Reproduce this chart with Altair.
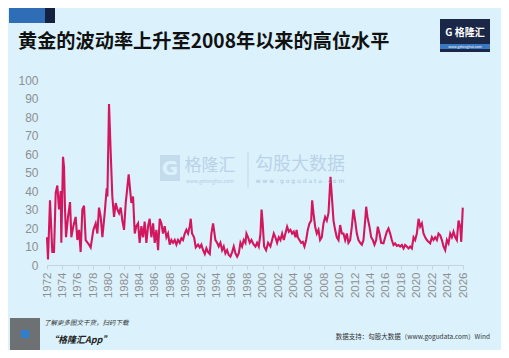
import altair as alt
import pandas as pd

# ---- data ----
years = [
    1972.00, 1972.13, 1972.39, 1972.69, 1972.91, 1973.13, 1973.34, 1973.56, 1973.78, 1973.86,
    1974.08, 1974.21, 1974.34, 1974.47, 1974.73, 1974.99, 1975.16, 1975.42, 1975.72, 1975.94,
    1976.16, 1976.37, 1976.59, 1976.81, 1977.02, 1977.45, 1977.67, 1978.02, 1978.32, 1978.54,
    1978.75, 1978.97, 1979.19, 1979.49, 1979.75, 1979.84, 1980.05, 1980.27, 1980.48, 1980.70,
    1980.92, 1981.13, 1981.35, 1981.57, 1981.78, 1982.00, 1982.22, 1982.60, 1982.95, 1983.17,
    1983.39, 1983.60, 1983.82, 1984.03, 1984.25, 1984.47, 1984.68, 1984.90, 1985.12, 1985.33,
    1985.55, 1985.77, 1985.98, 1986.20, 1986.42, 1986.63, 1986.85, 1987.06, 1987.28, 1987.50,
    1987.71, 1987.93, 1988.15, 1988.36, 1988.58, 1988.80, 1989.01, 1989.23, 1989.45, 1989.66,
    1989.88, 1990.09, 1990.31, 1990.53, 1990.66, 1990.83, 1991.09, 1991.31, 1991.61, 1991.83,
    1992.04, 1992.26, 1992.48, 1992.69, 1992.91, 1993.13, 1993.34, 1993.56, 1993.86, 1994.08,
    1994.29, 1994.51, 1994.73, 1994.94, 1995.16, 1995.38, 1995.59, 1995.81, 1996.03, 1996.24,
    1996.46, 1996.68, 1996.89, 1997.11, 1997.32, 1997.54, 1997.76, 1997.89, 1998.10, 1998.32,
    1998.54, 1998.84, 1999.06, 1999.27, 1999.49, 1999.71, 1999.85, 2000.00, 2000.18, 2000.44,
    2000.70, 2001.00, 2001.22, 2001.44, 2001.65, 2001.87, 2002.09, 2002.30, 2002.52, 2002.74,
    2002.95, 2003.17, 2003.39, 2003.60, 2003.82, 2004.03, 2004.25, 2004.40, 2004.55, 2004.77,
    2004.99, 2005.20, 2005.42, 2005.64, 2005.85, 2006.07, 2006.29, 2006.42, 2006.59, 2006.81,
    2007.02, 2007.24, 2007.45, 2007.67, 2007.89, 2008.10, 2008.32, 2008.54, 2008.80, 2009.01,
    2009.19, 2009.40, 2009.62, 2009.84, 2010.05, 2010.27, 2010.48, 2010.70, 2010.92, 2011.13,
    2011.35, 2011.57, 2011.78, 2012.00, 2012.22, 2012.43, 2012.65, 2012.87, 2013.08, 2013.30,
    2013.43, 2013.60, 2013.86, 2014.08, 2014.29, 2014.51, 2014.73, 2014.94, 2015.16, 2015.38,
    2015.68, 2015.90, 2016.11, 2016.33, 2016.55, 2016.76, 2016.98, 2017.19, 2017.41, 2017.63,
    2017.84, 2018.06, 2018.28, 2018.49, 2018.71, 2018.93, 2019.14, 2019.36, 2019.58, 2019.79,
    2020.01, 2020.23, 2020.44, 2020.66, 2020.87, 2021.09, 2021.31, 2021.52, 2021.74, 2021.96,
    2022.17, 2022.39, 2022.61, 2022.82, 2023.04, 2023.26, 2023.47, 2023.69, 2023.91, 2024.12,
    2024.34, 2024.55, 2024.77, 2024.99, 2025.20, 2025.42, 2025.64, 2025.77, 2025.88, 2025.97,
]
vols = [
    15, 3, 35, 7, 7, 39, 43, 30, 40, 12,
    58.5, 53, 30, 15, 26, 34, 15, 21, 26, 13.5,
    19, 7, 30, 32, 13.5, 11, 9.5, 19, 22.5, 17,
    31, 26, 15, 28, 41.5, 37, 87, 60.5, 37, 26,
    33.5, 30, 28, 31, 24, 19, 33.5, 49, 33.5, 37,
    17, 21, 22.5, 12, 21, 15, 23.5, 12, 21, 25,
    15, 22.5, 12, 19, 8, 25, 22.5, 17, 21, 15,
    17, 11, 13.5, 12, 13.5, 11, 13.5, 12, 14.5, 13.5,
    17, 19, 17, 21, 25, 17, 15, 9.5, 11, 9.5,
    11, 8, 6, 9, 7, 6, 17, 22.5, 13.5, 12,
    10, 12, 8, 10, 6.3, 8, 5.4, 4.5, 7, 10,
    6.3, 4.5, 6.3, 12, 10, 13.5, 12, 17, 15, 12,
    13.5, 11, 10, 12, 10, 17, 30, 22.5, 10, 8,
    12, 10, 13.5, 17, 15, 12, 15, 13.5, 17, 13.5,
    17, 20.7, 18, 19, 17, 18, 15, 19, 15, 13.5,
    12, 12.5, 10, 13.5, 19, 22.5, 24, 35, 28, 20.7,
    17, 19, 13.5, 15, 22.5, 26, 24, 28, 47.7, 35,
    24, 19, 15, 13.5, 21.6, 17, 17, 13.5, 17, 12,
    13.5, 20.7, 30, 24, 17, 13.5, 12, 11, 13.5, 24,
    31.5, 26, 20.7, 15, 13.5, 11, 13.5, 20.7, 17, 12,
    11.7, 15, 18, 19.8, 17, 13.5, 10.8, 11.7, 10.3, 10.8,
    10, 10.8, 9, 10.8, 10, 9, 10, 9, 15, 13.5,
    17, 25, 20.7, 22.5, 17, 15, 13.5, 12.5, 11.7, 15,
    13.5, 15, 13.5, 17, 16, 13.5, 10, 8, 13.5, 11.7,
    17, 15, 18, 15, 13.5, 24, 20.7, 12.5, 22.5, 31,
]
x_ticks = list(range(1972, 2027, 2))
y_ticks = list(range(0, 101, 10))

title_text = "黄金的波动率上升至2008年以来的高位水平"
source_text = "数据支持：勾股大数据（www.gogudata.com）Wind"

df = pd.DataFrame({"year": years, "vol": vols})

W, H = 416, 185
BG = "#dbf2fd"
CJK = "Noto Sans CJK SC"

line = alt.Chart(df).mark_line(color="#d3175f", strokeWidth=2.1, clip=False).encode(
    x=alt.X("year:Q",
            scale=alt.Scale(domain=[1972, 2026], nice=False, zero=False),
            axis=alt.Axis(values=x_ticks, format="d", labelAngle=-90, title=None,
                          grid=False, domainColor="#c5d3dc", tickColor="#c5d3dc",
                          tickSize=4, labelColor="#8f8f8f", labelFontSize=11.5,
                          labelFont="Liberation Sans", labelPadding=3)),
    y=alt.Y("vol:Q",
            scale=alt.Scale(domain=[0, 100], nice=False),
            axis=alt.Axis(values=y_ticks, title=None, grid=False, domain=False,
                          ticks=False, labelColor="#8f8f8f", labelFontSize=12,
                          labelFont="Liberation Sans", labelPadding=9)),
)

one = pd.DataFrame({"k": [0]})

def txt(text, x, y, size, color, weight="normal", align="left", font=CJK,
        style="normal", opacity=1.0, baseline="middle"):
    return alt.Chart(one).mark_text(
        text=text, fontSize=size, color=color, fontWeight=weight, align=align,
        baseline=baseline, font=font, fontStyle=style, opacity=opacity
    ).encode(x=alt.value(x), y=alt.value(y))

def box(x, x2, y, y2, color, opacity=1.0):
    return alt.Chart(one).mark_rect(color=color, opacity=opacity).encode(
        x=alt.value(x), x2=alt.value(x2), y=alt.value(y), y2=alt.value(y2))

# decorations (plot-area pixel coordinates; plot origin is page (47, 80))
deco = [
    box(-38, -2, -72, -57, "#2f6eb6"),
    box(-2, 8, -72, -57, "#14213f"),
    txt(title_text, -29, -38, 19.2, "#111111", weight="bold"),
    box(393, 443, -61, -28, "#1b2746"),
    txt("G 格隆汇", 418, -47, 10, "#ffffff", weight="bold", align="center"),
    box(393, 443, -36, -31, "#3a78c2"),
    txt("www.gelonghui.com", 418, -33.5, 3.5, "#ffffff", align="center"),
    # watermark
    box(113, 133, 75, 101, "#b3cbe3", opacity=0.6),
    txt("G", 123, 89, 20, "#dbf2fd", weight="bold", align="center", font="DejaVu Sans"),
    txt("格隆汇", 163, 86, 17, "#b3cbe3", align="center", opacity=0.8),
    txt("www.gelonghui.com", 163, 101, 5, "#b3cbe3", align="center"),
    box(200.5, 201.5, 72, 108, "#c3d6e8"),
    txt("勾股大数据", 253, 85, 18, "#b3cbe3", align="center", opacity=0.8),
    txt("w w w . g o g u d a t a . c o m", 253, 101, 6, "#a9c2da", align="center",
        font="DejaVu Sans"),
    # footer
    box(-37, -7, 238, 270, "#5a5a5a", opacity=0.85),
    box(-26, -18, 250, 258, "#2f7fd0"),
    txt("了解更多图文干货，扫码下载", -3, 243, 6.5, "#333333", style="italic"),
    txt("“格隆汇App”", 2, 260, 9, "#222222", weight="bold", style="italic"),
    txt(source_text, 443, 257, 6.5, "#333333", align="right"),
]

chart = alt.layer(line, *deco).properties(
    width=W, height=H,
    background=BG,
    padding={"left": 39, "top": 72, "right": 38, "bottom": 85},
    autosize=alt.AutoSizeParams(type="none"),
).configure_view(stroke=None, fill=BG)

chart.save("out.html", embed_options={"renderer": "svg", "actions": False})
